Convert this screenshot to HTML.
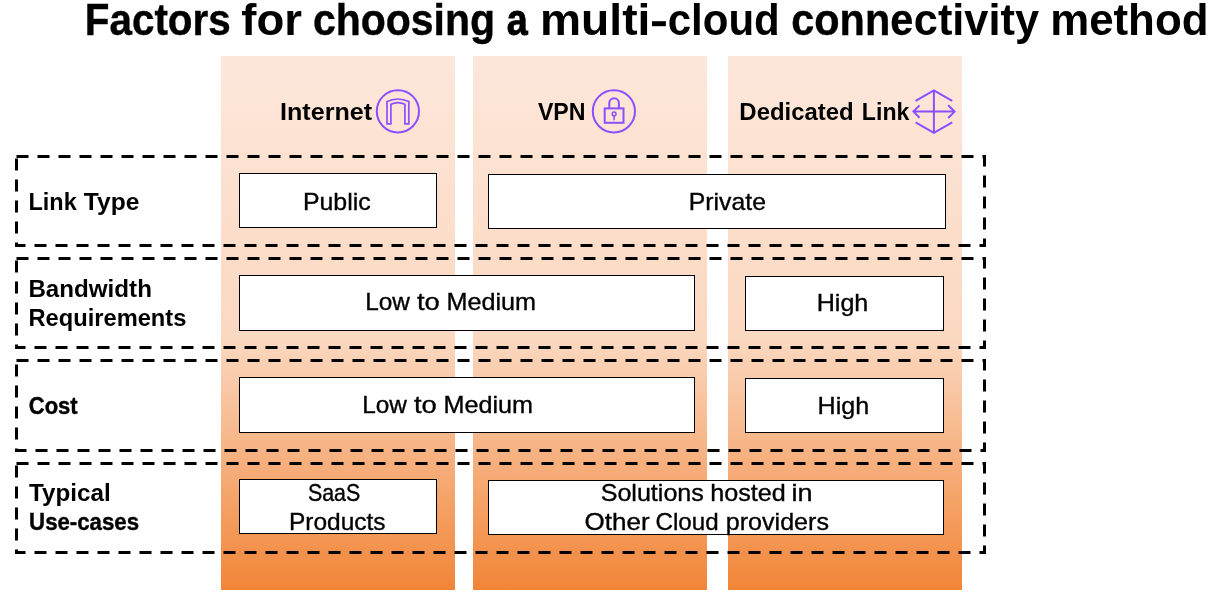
<!DOCTYPE html>
<html lang="en"><head><meta charset="utf-8"><title>Factors for choosing a multi-cloud connectivity method</title>
<style>html,body{margin:0;padding:0;background:#fff}svg{display:block;will-change:transform}text{font-family:"Liberation Sans",sans-serif;fill:#000}</style></head>
<body>
<svg width="1218" height="599" viewBox="0 0 1218 599">
<defs><linearGradient id="g" x1="0" y1="0" x2="0" y2="1"><stop offset="0" stop-color="#FDE7DB"/><stop offset="0.53" stop-color="#FBD8C0"/><stop offset="1" stop-color="#F18537"/></linearGradient></defs>
<rect width="1218" height="599" fill="#fff"/>
<rect x="221" y="56" width="234" height="534" fill="url(#g)"/>
<rect x="473" y="56" width="234" height="534" fill="url(#g)"/>
<rect x="728" y="56" width="234" height="534" fill="url(#g)"/>
<g fill="none" stroke="#8C4FFF" stroke-width="2">
<circle cx="397.9" cy="111.3" r="21.1"/>
<path stroke-width="1.7" stroke-linejoin="miter" d="M387 123.9 V101.6 Q397.9 96.4 408.8 101.6 V123.9 H404.9 V104.3 Q397.9 101 390.9 104.3 V123.9 Z"/>
<circle cx="613.9" cy="111.3" r="21.1"/>
<rect x="604.7" y="108.4" width="18.8" height="14.4"/>
<path d="M609.3 108.4 V103 A4.8 4.8 0 0 1 618.9 103 V108.4"/>
<circle cx="614.1" cy="114" r="1.9" stroke-width="1.5"/>
<path d="M614.1 116 V120.2" stroke-width="1.5"/>
<path d="M915.6 100.8 L933.9 90.3 L952.2 100.8 M915.6 122.4 L933.9 132.9 L952.2 122.4 M933.9 90.3 V132.9 M913.6 111.6 H954.4 M919.6 105.4 L913.4 111.6 L919.6 117.8 M948.2 105.2 L954.6 111.6 L948.2 118"/>
</g>
<g fill="#fff" stroke="#000" stroke-width="1">
<rect x="239.5" y="173.5" width="197.0" height="54.0"/>
<rect x="488.5" y="174.5" width="457.0" height="54.0"/>
<rect x="239.5" y="275.5" width="455.0" height="55.0"/>
<rect x="745.5" y="276.5" width="198.0" height="54.0"/>
<rect x="239.5" y="377.5" width="455.0" height="55.0"/>
<rect x="745.5" y="378.5" width="198.0" height="54.0"/>
<rect x="239.5" y="479.5" width="197.0" height="54.0"/>
<rect x="488.5" y="480.5" width="455.0" height="54.0"/>
</g>
<g fill="none" stroke="#000" stroke-width="3" stroke-dasharray="12 9">
<rect x="16.5" y="156.5" width="968" height="89.0"/>
<rect x="16.5" y="258.5" width="968" height="89.0"/>
<rect x="16.5" y="360.5" width="968" height="90.0"/>
<rect x="16.5" y="463.5" width="968" height="89.0"/>
</g>
<rect x="652" y="21.2" width="13.9" height="5" fill="#000"/>
<text x="84.77" y="34.7" font-size="44.1" font-weight="bold" textLength="146.0" lengthAdjust="spacingAndGlyphs" stroke="#000" stroke-width="0.4">Factors</text>
<text x="241.33" y="34.7" font-size="44.1" font-weight="bold" textLength="60.71" lengthAdjust="spacingAndGlyphs">for</text>
<text x="312.88" y="34.7" font-size="44.1" font-weight="bold" textLength="182.14" lengthAdjust="spacingAndGlyphs" stroke="#000" stroke-width="0.4">choosing</text>
<text x="506.86" y="34.7" font-size="44.1" font-weight="bold" textLength="20.98" lengthAdjust="spacingAndGlyphs" stroke="#000" stroke-width="0.9">a</text>
<text x="540.01" y="34.7" font-size="44.1" font-weight="bold" textLength="110.41" lengthAdjust="spacingAndGlyphs">multi</text>
<text x="667.74" y="34.7" font-size="44.1" font-weight="bold" textLength="112.06" lengthAdjust="spacingAndGlyphs">cloud</text>
<text x="791.26" y="34.7" font-size="44.1" font-weight="bold" textLength="121.98" lengthAdjust="spacingAndGlyphs" stroke="#000" stroke-width="0.4">conne</text>
<text x="913.78" y="34.7" font-size="44.1" font-weight="bold" textLength="125.3" lengthAdjust="spacingAndGlyphs">ctivity</text>
<text x="1050.17" y="34.7" font-size="44.1" font-weight="bold" textLength="158.28" lengthAdjust="spacingAndGlyphs">method</text>
<text x="279.98" y="119.8" font-size="23.5" font-weight="bold" textLength="92.14" lengthAdjust="spacingAndGlyphs">Internet</text>
<text x="537.92" y="119.8" font-size="23.5" font-weight="bold" textLength="47.67" lengthAdjust="spacingAndGlyphs">VPN</text>
<text x="739.36" y="120.0" font-size="23.5" font-weight="bold" textLength="114.31" lengthAdjust="spacingAndGlyphs">Dedicated</text>
<text x="861.82" y="120.0" font-size="23.5" font-weight="bold" textLength="47.58" lengthAdjust="spacingAndGlyphs">Link</text>
<text x="28.44" y="210.0" font-size="23.5" font-weight="bold" textLength="48.25" lengthAdjust="spacingAndGlyphs">Link</text>
<text x="83.84" y="210.0" font-size="23.5" font-weight="bold" textLength="55.47" lengthAdjust="spacingAndGlyphs">Type</text>
<text x="28.4" y="296.9" font-size="23.5" font-weight="bold" textLength="123.5" lengthAdjust="spacingAndGlyphs">Bandwidth</text>
<text x="28.43" y="325.6" font-size="23.5" font-weight="bold" textLength="157.99" lengthAdjust="spacingAndGlyphs">Requirements</text>
<text x="28.77" y="414.1" font-size="23.5" font-weight="bold" textLength="48.88" lengthAdjust="spacingAndGlyphs" stroke="#000" stroke-width="0.4">Cost</text>
<text x="28.94" y="501.2" font-size="23.5" font-weight="bold" textLength="81.71" lengthAdjust="spacingAndGlyphs">Typical</text>
<text x="29.12" y="529.7" font-size="23.5" font-weight="bold" textLength="109.92" lengthAdjust="spacingAndGlyphs" stroke="#000" stroke-width="0.4">Use-cases</text>
<text x="302.95" y="209.6" font-size="24" font-weight="normal" textLength="67.72" lengthAdjust="spacingAndGlyphs" stroke="#000" stroke-width="0.35">Public</text>
<text x="688.86" y="209.65" font-size="24" font-weight="normal" textLength="77.06" lengthAdjust="spacingAndGlyphs" stroke="#000" stroke-width="0.35">Private</text>
<text x="365.19" y="309.9" font-size="24" font-weight="normal" textLength="44.66" lengthAdjust="spacingAndGlyphs" stroke="#000" stroke-width="0.35">Low</text>
<text x="416.91" y="309.9" font-size="24" font-weight="normal" textLength="22.8" lengthAdjust="spacingAndGlyphs" stroke="#000" stroke-width="0.35">to</text>
<text x="446.52" y="309.9" font-size="24" font-weight="normal" textLength="89.57" lengthAdjust="spacingAndGlyphs" stroke="#000" stroke-width="0.35">Medium</text>
<text x="362.19" y="412.7" font-size="24" font-weight="normal" textLength="44.66" lengthAdjust="spacingAndGlyphs" stroke="#000" stroke-width="0.35">Low</text>
<text x="413.91" y="412.7" font-size="24" font-weight="normal" textLength="22.8" lengthAdjust="spacingAndGlyphs" stroke="#000" stroke-width="0.35">to</text>
<text x="443.52" y="412.7" font-size="24" font-weight="normal" textLength="89.57" lengthAdjust="spacingAndGlyphs" stroke="#000" stroke-width="0.35">Medium</text>
<text x="816.73" y="310.7" font-size="24" font-weight="normal" textLength="51.61" lengthAdjust="spacingAndGlyphs" stroke="#000" stroke-width="0.35">High</text>
<text x="817.63" y="413.9" font-size="24" font-weight="normal" textLength="51.61" lengthAdjust="spacingAndGlyphs" stroke="#000" stroke-width="0.35">High</text>
<text x="307.97" y="500.76" font-size="24" font-weight="normal" textLength="52.3" lengthAdjust="spacingAndGlyphs" stroke="#000" stroke-width="0.4">SaaS</text>
<text x="288.98" y="530.3" font-size="24" font-weight="normal" textLength="96.55" lengthAdjust="spacingAndGlyphs" stroke="#000" stroke-width="0.35">Products</text>
<text x="600.67" y="501.0" font-size="24" font-weight="normal" textLength="103.19" lengthAdjust="spacingAndGlyphs" stroke="#000" stroke-width="0.35">Solutions</text>
<text x="710.34" y="501.0" font-size="24" font-weight="normal" textLength="75.45" lengthAdjust="spacingAndGlyphs" stroke="#000" stroke-width="0.35">hosted</text>
<text x="791.56" y="501.0" font-size="24" font-weight="normal" textLength="21.02" lengthAdjust="spacingAndGlyphs" stroke="#000" stroke-width="0.35">in</text>
<text x="584.58" y="530.0" font-size="24" font-weight="normal" textLength="65.02" lengthAdjust="spacingAndGlyphs" stroke="#000" stroke-width="0.35">Other</text>
<text x="655.53" y="530.0" font-size="24" font-weight="normal" textLength="63.11" lengthAdjust="spacingAndGlyphs" stroke="#000" stroke-width="0.35">Cloud</text>
<text x="725.82" y="530.0" font-size="24" font-weight="normal" textLength="103.12" lengthAdjust="spacingAndGlyphs" stroke="#000" stroke-width="0.35">providers</text>
</svg>
</body></html>
